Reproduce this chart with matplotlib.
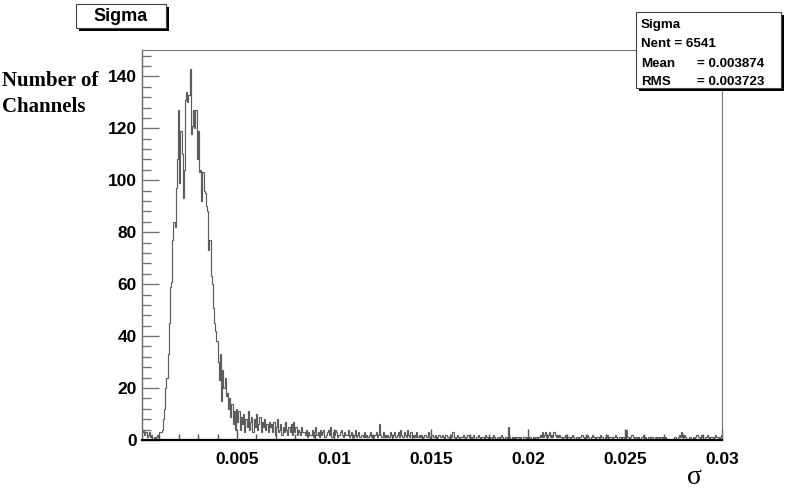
import numpy as np
import matplotlib
matplotlib.use("Agg")
import matplotlib.pyplot as plt
from matplotlib.patches import Rectangle
from matplotlib.ticker import MultipleLocator, FixedLocator

# ---------------- data ----------------
hist_lo = 0.0001
hist_hi = 0.03
counts_head = [3, 4, 2, 3, 1, 2, 3, 1, 2, 0, 1, 0, 1, 2, 1, 3, 3,
               4, 8, 12, 20, 24, 33, 45, 59, 61]
counts_peak = [77, 84, 82, 97, 108, 127, 99, 119, 110, 93, 104, 131, 134, 130, 133,
               143, 118, 121, 127, 120, 127, 108, 119, 103, 104, 92, 103, 96, 95, 90,
               88, 73, 77, 63, 60, 51, 45, 42, 38, 30, 23, 33, 15, 27, 20, 24, 17,
               18, 12, 16, 9, 14, 6, 11, 4, 12]
counts_shoulder = [7, 11, 4, 9, 6, 10, 3, 8, 5, 11, 4, 7, 9, 3,
                   8, 5, 10, 4, 6, 9, 3, 7, 5, 8, 4, 6, 3, 7, 5,
                   6, 3, 7, 2, 5, 8, 3, 4, 6, 2, 5, 3, 7, 4, 2, 5, 3, 6, 2, 7,
                   3, 5, 2, 4, 3, 2, 5, 3]
counts_tail = [3, 2, 4, 1, 3, 2, 2, 4, 1, 3, 5, 2, 3, 1, 4, 2, 3, 4, 1, 2,
               3, 4, 2, 5, 1, 3, 2, 4, 3, 1, 2, 3, 4, 2, 1, 3, 2, 2, 4, 1,
               2, 3, 1, 2, 4, 1, 2, 3, 1, 2, 2, 1, 3, 1, 2, 1, 2, 3, 1, 2,
               1, 2, 3, 1, 2, 6, 2, 1, 3, 1, 2, 1, 2, 1, 3, 2, 1, 2, 3, 1,
               2, 3, 1, 4, 2, 1, 3, 2, 1, 4, 2, 1, 3, 2, 1, 2, 1, 3, 1, 2,
               1, 2, 0, 1, 2, 1, 1, 3, 1, 0, 2, 1, 1, 2, 0, 1, 2, 1, 1, 2,
               1, 0, 2, 1, 1, 0, 2, 1, 3, 1, 0, 1, 2, 1, 0, 1, 1, 2, 1, 0,
               1, 2, 1, 1, 0, 1, 2, 0, 1, 1, 2, 1, 0, 1, 1, 0, 2, 1, 1, 0,
               1, 1, 0, 2, 1, 0, 1, 1, 0, 1, 2, 1, 0, 1, 1, 0, 5, 1, 0, 1,
               0, 1, 0, 1, 1, 0, 1, 0, 0, 1, 1, 0, 1, 0, 1, 1, 0, 1, 0, 1,
               1, 0, 1, 2, 1, 3, 1, 2, 3, 1, 2, 3, 1, 2, 1, 3, 2, 1, 2, 1,
               2, 1, 0, 1, 1, 2, 0, 1, 1, 0, 1, 2, 1, 0, 1, 1, 0, 1, 1, 2,
               1, 0, 1, 1, 2, 1, 0, 1, 2, 1, 1, 0, 1, 1, 0, 2, 1, 1, 0, 1,
               1, 2, 0, 1, 1, 0, 1, 1, 2, 1, 0, 1, 1, 0, 1, 1, 0, 4, 1, 1,
               0, 1, 2, 1, 0, 1, 1, 0, 1, 0, 1, 1, 2, 0, 1, 0, 1, 1, 0, 1,
               1, 0, 1, 0, 1, 1, 0, 1, 0, 1, 0, 1, 0, 0, 0, 0, 0, 0, 0, 1,
               0, 0, 1, 2, 1, 3, 1, 2, 1, 0, 0, 0, 1, 0, 0, 1, 0, 1, 2, 1,
               1, 0, 2, 1, 0, 1, 1, 2, 1, 0, 1, 1, 0, 1, 2, 1, 1, 0, 1, 2]

y_ticks = [0, 20, 40, 60, 80, 100, 120, 140]
x_ticks = [0.005, 0.01, 0.015, 0.02, 0.025, 0.03]
x_ticklabels = ["0.005", "0.01", "0.015", "0.02", "0.025", "0.03"]
hist_name = "Sigma"
stat_nent = "6541"
stat_mean = "0.003874"
stat_rms = "0.003723"

counts = np.array(counts_head + counts_peak + counts_shoulder + counts_tail, dtype=float)
edges = np.linspace(hist_lo, hist_hi, len(counts) + 1)

# ---------------- figure ----------------
W, H = 796, 491
fig = plt.figure(figsize=(W / 100, H / 100), dpi=100)
fig.patch.set_facecolor("white")

L, R, T, B = 142, 722, 50, 440
ax = fig.add_axes([L / W, (H - B) / H, (R - L) / W, (B - T) / H])
ax.stairs(counts, edges, color="#5c5c5c", linewidth=0.85, baseline=0)
ax.set_xlim(hist_lo, hist_hi)
ax.set_ylim(0, 1.05 * counts.max())

sans = ["Liberation Sans", "DejaVu Sans"]
serif = ["Liberation Serif", "DejaVu Serif"]

ax.yaxis.set_major_locator(FixedLocator(y_ticks))
ax.yaxis.set_minor_locator(MultipleLocator(4))
ax.xaxis.set_major_locator(FixedLocator(x_ticks))
ax.xaxis.set_minor_locator(MultipleLocator(0.001))
ax.set_xticklabels(x_ticklabels)
ax.set_yticklabels([str(v) for v in y_ticks])

ax.tick_params(axis="y", which="major", direction="in", length=12, width=1.0,
               color="#777777", pad=3.6)
ax.tick_params(axis="y", which="minor", direction="in", length=6.5, width=1.0,
               color="#777777")
ax.tick_params(axis="x", which="major", direction="in", length=8, width=1.0,
               color="#555555", pad=8.5)
ax.tick_params(axis="x", which="minor", direction="in", length=4.3, width=1.0,
               color="#555555")
for lab in ax.get_xticklabels() + ax.get_yticklabels():
    lab.set_fontfamily(sans)
    lab.set_fontweight("bold")
    lab.set_fontsize(12.5)

for side in ["top", "right"]:
    ax.spines[side].set_color("#777777")
    ax.spines[side].set_linewidth(0.8)
ax.spines["left"].set_color("#666666")
ax.spines["left"].set_linewidth(1.0)
ax.spines["bottom"].set_color("black")
ax.spines["bottom"].set_linewidth(1.6)

# ---------------- overlay (pixel coordinates) ----------------
ov = fig.add_axes([0, 0, 1, 1], zorder=5)
ov.set_xlim(0, W)
ov.set_ylim(H, 0)
ov.axis("off")
ov.patch.set_alpha(0)

# title box
ov.add_patch(Rectangle((79, 7), 90, 24, facecolor="black", edgecolor="none"))
ov.add_patch(Rectangle((76, 4), 90, 24, facecolor="white", edgecolor="#444444", linewidth=0.8))
ov.text(121, 16.5, hist_name, ha="center", va="center", fontsize=13,
        fontweight="bold", family=sans)

# stats box
ov.add_patch(Rectangle((639, 15), 145, 76, facecolor="black", edgecolor="none"))
ov.add_patch(Rectangle((636, 12), 145, 76, facecolor="white", edgecolor="#444444", linewidth=0.8))
stat_kw = dict(ha="left", va="baseline", fontsize=9.6, fontweight="bold", family=sans)
ov.text(641, 27.5, hist_name, **stat_kw)
ov.text(641, 47, "Nent = " + stat_nent, **stat_kw)
ov.text(641, 66.5, "Mean", **stat_kw)
ov.text(697, 66.5, "= " + stat_mean, **stat_kw)
ov.text(641, 85, "RMS", **stat_kw)
ov.text(697, 85, "= " + stat_rms, **stat_kw)

# axis titles
ov.text(2, 86, "Number of", ha="left", va="baseline", fontsize=15,
        fontweight="bold", family=serif)
ov.text(2, 112, "Channels", ha="left", va="baseline", fontsize=15,
        fontweight="bold", family=serif)
ov.text(694, 478, "σ", ha="center", va="center", fontsize=20, family=serif)

fig.savefig("out.png", dpi=100)
